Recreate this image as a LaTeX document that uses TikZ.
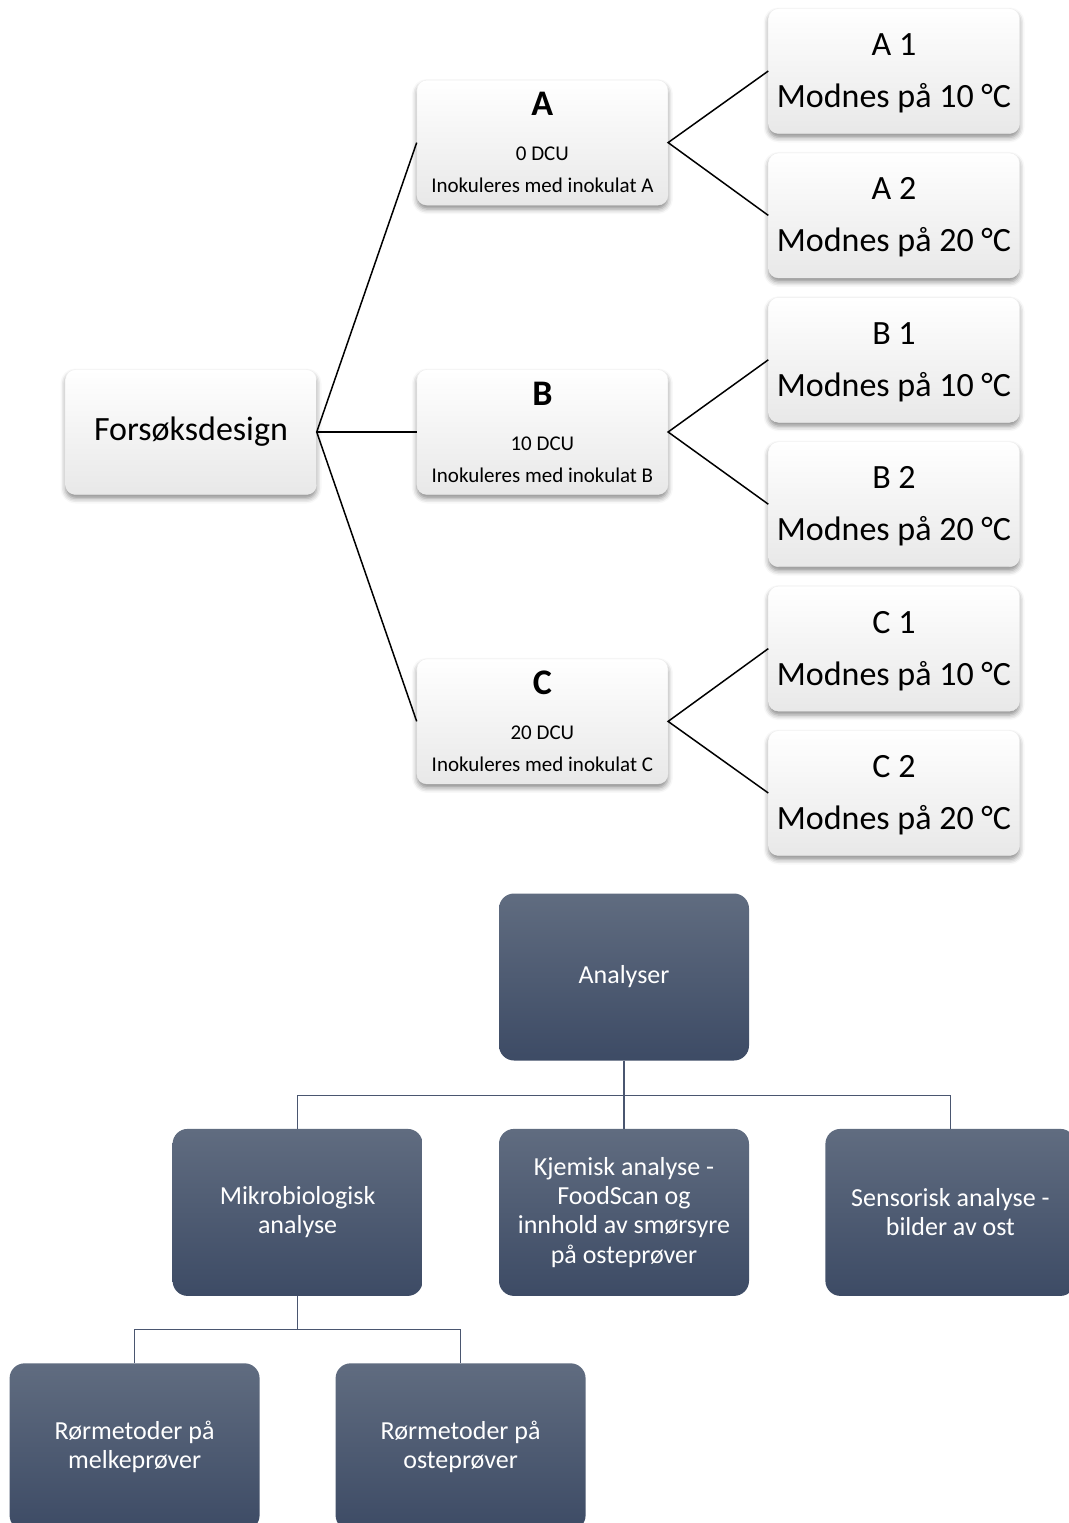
\documentclass[tikz,border=0pt]{standalone}
\usepackage{fontspec}
\setmainfont{Carlito}
\usetikzlibrary{positioning,shadows.blur}

\definecolor{slatetop}{HTML}{606C80}
\definecolor{slatebot}{HTML}{3D4B65}
\definecolor{slateline}{HTML}{4A5670}

\begin{document}
\begin{tikzpicture}[
                x=1pt, y=-1pt,
                lightbox/.style={rectangle, rounded corners=10pt, draw=black!7,
                  top color=white, bottom color=black!9,
                  minimum width=251pt, minimum height=125pt, align=center,
                  blur shadow={shadow xshift=0pt, shadow yshift=-4pt,
                    shadow blur radius=5pt, shadow opacity=45}},
                leafbox/.style={lightbox, text depth=1pt, font=\fontsize{34}{52}\selectfont},
                groupbox/.style={lightbox, text depth=-7pt, font=\fontsize{21}{32}\selectfont},
                darkbox/.style={rectangle, rounded corners=15pt,
                  top color=slatetop, bottom color=slatebot, text=white,
                  minimum width=250pt, minimum height=167pt, align=center,
                  font=\fontsize{26}{29.3}\selectfont},
                link/.style={draw=black, line width=1.5pt},
                branch/.style={draw=slateline, line width=1.2pt}
                ]
                \useasboundingbox (0,0) rectangle (1068,1523);

                % Forsoksdesign tree
                \node[lightbox, font=\fontsize{34}{40}\selectfont] (fd) at (191,432) {Forsøksdesign};
                \node[groupbox, right=100pt of fd] (B) {{\fontsize{36}{36}\selectfont\bfseries B}\\[13pt]10 DCU\\Inokuleres med inokulat B};
                \node[groupbox, above=164pt of B] (A) {{\fontsize{36}{36}\selectfont\bfseries A}\\[13pt]0 DCU\\Inokuleres med inokulat A};
                \node[groupbox, below=164pt of B] (C) {{\fontsize{36}{36}\selectfont\bfseries C}\\[13pt]20 DCU\\Inokuleres med inokulat C};

                \node[leafbox] (A1) at (894,71) {A 1\\Modnes på 10 °C};
                \node[leafbox, below=19pt of A1] (A2) {A 2\\Modnes på 20 °C};
                \node[leafbox, below=19pt of A2] (B1) {B 1\\Modnes på 10 °C};
                \node[leafbox, below=19pt of B1] (B2) {B 2\\Modnes på 20 °C};
                \node[leafbox, below=19pt of B2] (C1) {C 1\\Modnes på 10 °C};
                \node[leafbox, below=19pt of C1] (C2) {C 2\\Modnes på 20 °C};

                \draw[link] (fd.east) -- (A.west);
                \draw[link] (fd.east) -- (B.west);
                \draw[link] (fd.east) -- (C.west);
                \draw[link] (A1.west) -- (A.east) -- (A2.west);
                \draw[link] (B1.west) -- (B.east) -- (B2.west);
                \draw[link] (C1.west) -- (C.east) -- (C2.west);

                % Analyser chart
                \node[darkbox] (an) at (624,977) {Analyser};
                \node[darkbox, below=68pt of an] (kje) {Kjemisk analyse -\\FoodScan og\\innhold av smørsyre\\på osteprøver};
                \node[darkbox, left=76pt of kje] (mik) {Mikrobiologisk\\analyse};
                \node[darkbox, right=76pt of kje] (sen) {Sensorisk analyse -\\bilder av ost};
                \node[darkbox, below=67pt of mik, xshift=-163pt] (mel) {Rørmetoder på\\melkeprøver};
                \node[darkbox, below=67pt of mik, xshift=163pt] (ost) {Rørmetoder på\\osteprøver};

                \coordinate[below=35pt of an.south] (bus1);
                \coordinate[below=33pt of mik.south] (bus2);
                \draw[branch] (an.south) -- (bus1) -| (mik.north);
                \draw[branch] (bus1) -- (kje.north);
                \draw[branch] (bus1) -| (sen.north);
                \draw[branch] (mik.south) -- (bus2) -| (mel.north);
                \draw[branch] (bus2) -| (ost.north);
            \end{tikzpicture}
\end{document}
